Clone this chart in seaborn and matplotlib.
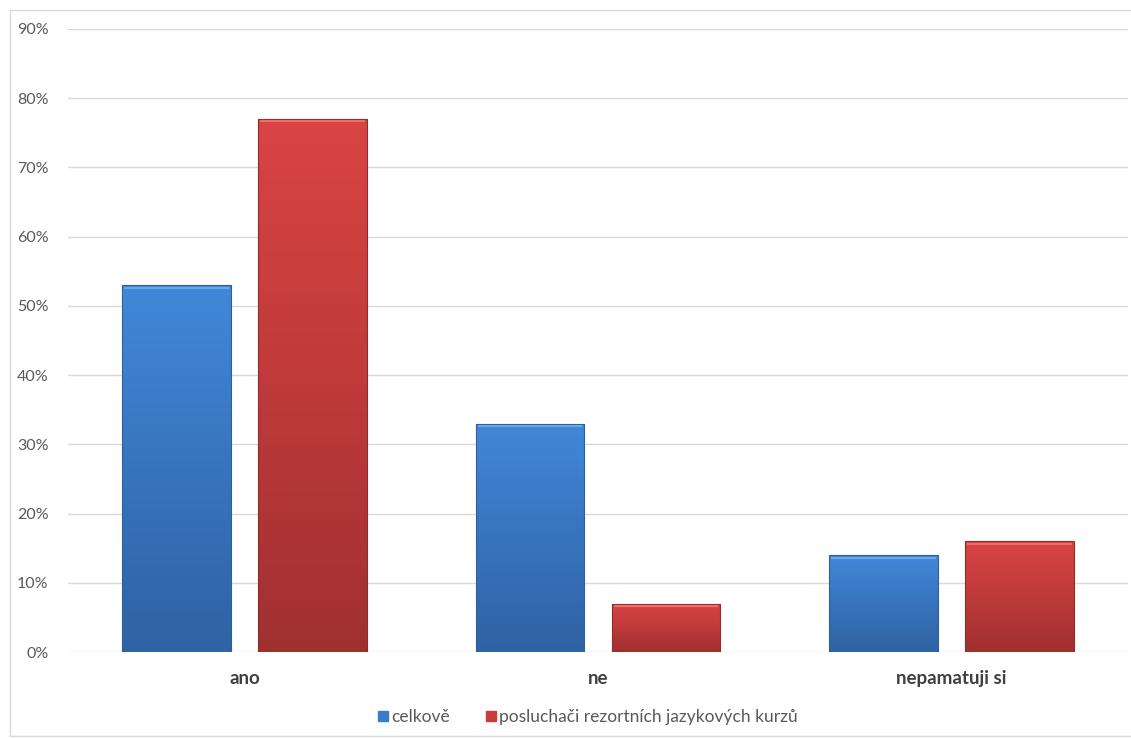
import numpy as np
import pandas as pd
import matplotlib
matplotlib.use("Agg")
import matplotlib.pyplot as plt
import seaborn as sns
from matplotlib.colors import LinearSegmentedColormap
from matplotlib.patches import Rectangle
from matplotlib.lines import Line2D

categories = ["ano", "ne", "nepamatuji si"]
series_names = ["celkově", "posluchači rezortních jazykových kurzů"]
celkove = [53, 33, 14]
posluchaci = [77, 7, 16]
ytick_values = [0, 10, 20, 30, 40, 50, 60, 70, 80, 90]
ytick_labels = [f"{v}%" for v in ytick_values]

df = pd.DataFrame({
    "kategorie": categories * 2,
    "skupina": [series_names[0]] * 3 + [series_names[1]] * 3,
    "hodnota": celkove + posluchaci,
})

sns.set_theme(style="white")
plt.rcParams["font.family"] = ["Lato", "DejaVu Sans"]

fig = plt.figure(figsize=(11.31, 7.39), dpi=100)
ax = fig.add_axes([68 / 1131, 87 / 739, 1060 / 1131, 623 / 739])

base_colors = {series_names[0]: "#3B7CC9", series_names[1]: "#C83C3C"}
sns.barplot(data=df, x="kategorie", y="hodnota", hue="skupina",
            palette=base_colors, width=0.77, gap=0.2, ax=ax,
            legend=False, zorder=3)

ax.set_ylim(0, 90)
ax.set_xlim(-0.5, 2.5)
ax.set_yticks(ytick_values)
ax.set_yticklabels(ytick_labels)
ax.grid(axis="y", color="#D9D9D9", linewidth=1.0, zorder=0)
ax.grid(axis="x", visible=False)
for s in ax.spines.values():
    s.set_visible(False)
ax.set_xlabel("")
ax.set_ylabel("")
ax.tick_params(axis="y", length=0, pad=14, labelsize=11.5, labelcolor="#595959")
ax.tick_params(axis="x", length=0, pad=13, labelsize=13.5)
for lbl in ax.get_xticklabels():
    lbl.set_fontweight("bold")
    lbl.set_color("#404040")

# gradient fill for each bar: lighter at the top, darker at the bottom
gradients = {
    0: LinearSegmentedColormap.from_list("b", ["#2F63A3", "#3874BE", "#4188D8"]),
    1: LinearSegmentedColormap.from_list("r", ["#A03030", "#BF3A3A", "#D94444"]),
}
edge_dark = {0: "#2F5E9A", 1: "#8E2C2C"}
top_light = {0: "#6AA6EA", 1: "#EE6E6E"}
grad = np.linspace(0, 1, 256).reshape(-1, 1)
patches = list(ax.patches)
for i, p in enumerate(patches):
    grp = i // len(categories)
    x0, y0 = p.get_x(), p.get_y()
    w, h = p.get_width(), p.get_height()
    im = ax.imshow(grad, cmap=gradients[grp], origin="lower", aspect="auto",
                   extent=[x0, x0 + w, y0, y0 + h], zorder=3)
    im.set_clip_path(p)
    p.set_facecolor("none")
    p.set_edgecolor(edge_dark[grp])
    p.set_linewidth(0.8)
    p.set_zorder(4)
    ax.plot([x0 + w * 0.02, x0 + w * 0.98], [y0 + h - 0.35, y0 + h - 0.35],
            color=top_light[grp], linewidth=1.5, zorder=5, solid_capstyle="butt")
ax.set_xlim(-0.5, 2.5)
ax.set_ylim(0, 90)

# legend with small square keys
handles = [Line2D([0], [0], marker="s", linestyle="none", markersize=7.5,
                  markerfacecolor=c, markeredgecolor=c)
           for c in ["#3B7CC9", "#C83C3C"]]
fig.legend(handles, series_names, loc="center", bbox_to_anchor=(587 / 1131, 1 - 717 / 739),
           ncol=2, frameon=False, fontsize=12.5, handletextpad=0.05, columnspacing=2.0,
           labelcolor="#595959", handlelength=0.8)

# light chart-area border
fig.patches.append(Rectangle((10 / 1131, 3 / 739), 1.2, 726 / 739, transform=fig.transFigure,
                             fill=False, edgecolor="#D9D9D9", linewidth=1.0, zorder=0))

fig.savefig("out.png", dpi=100, facecolor="white")
